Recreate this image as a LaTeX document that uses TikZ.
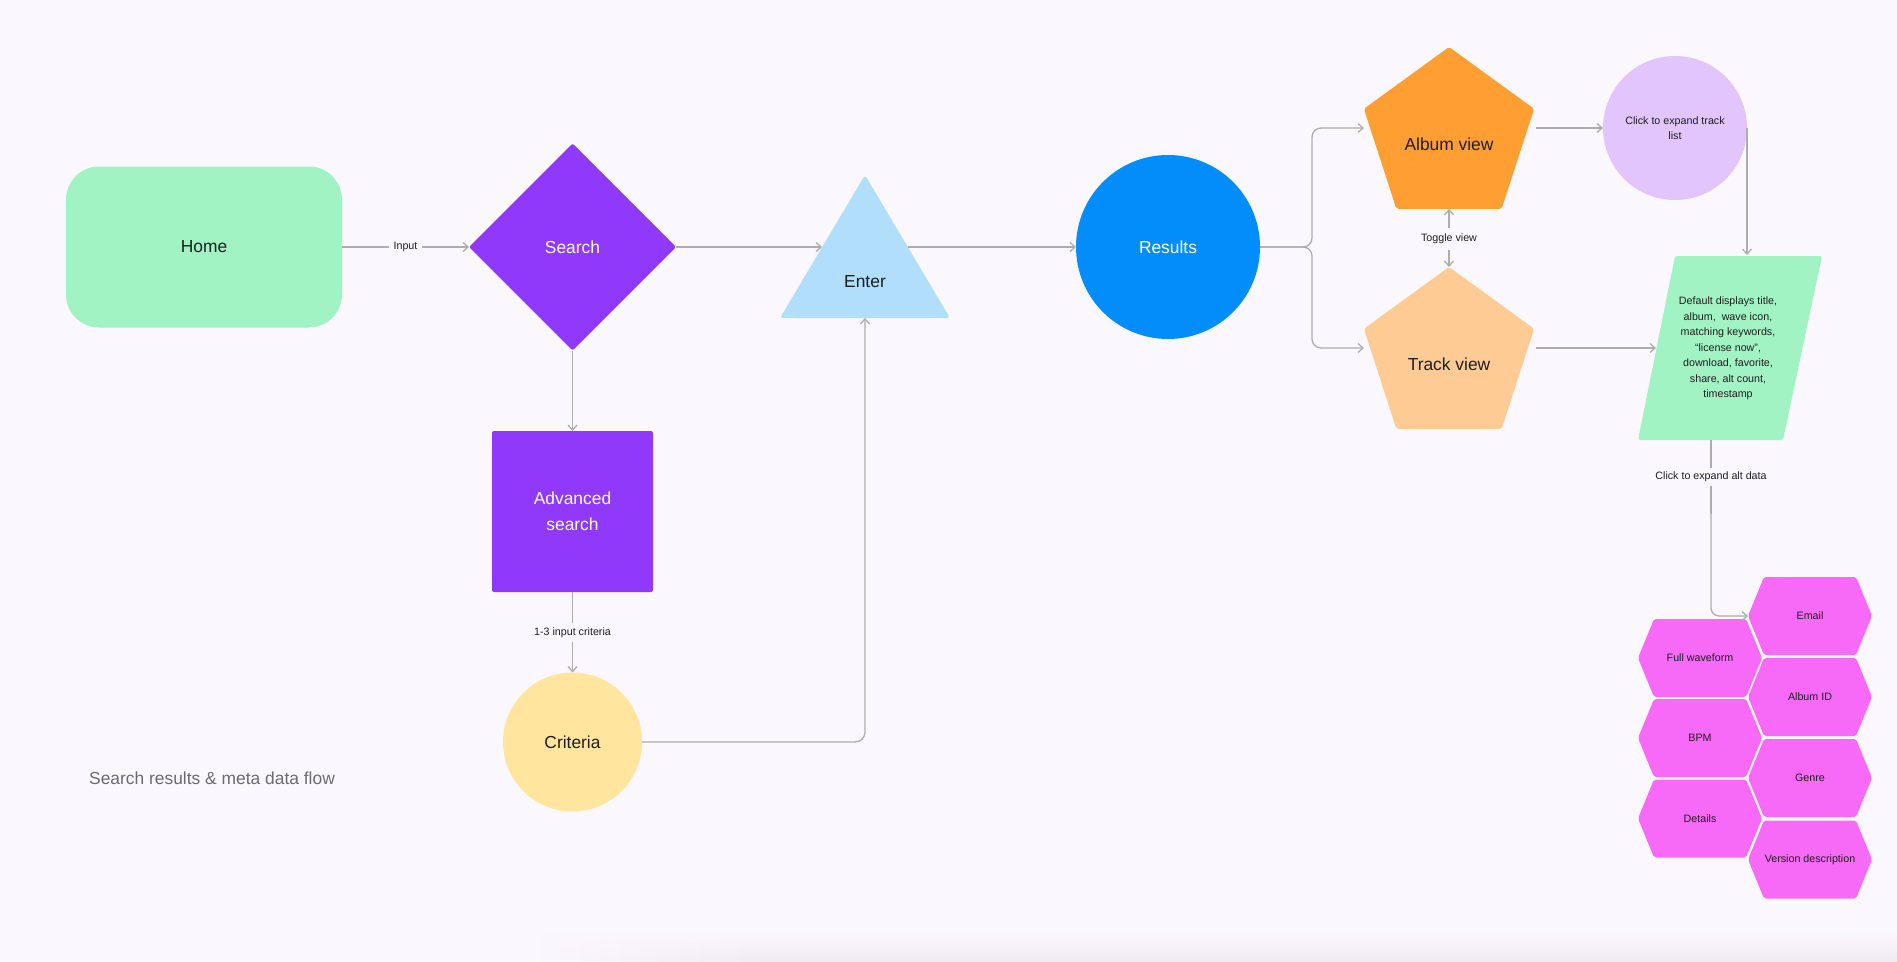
\documentclass[tikz,border=0pt]{standalone}
\usepackage{fontspec}
\setmainfont{Liberation Sans}
\usetikzlibrary{shapes.geometric,arrows.meta,calc}
\definecolor{bg}{HTML}{FBF7FE}
\definecolor{shade}{HTML}{F0EBF3}
\definecolor{mint}{HTML}{A1F3C4}
\definecolor{violet}{HTML}{9039FB}
\definecolor{skyb}{HTML}{B1DEFB}
\definecolor{azure}{HTML}{038DFB}
\definecolor{orng}{HTML}{FF9E32}
\definecolor{lorng}{HTML}{FFCB94}
\definecolor{lilac}{HTML}{E1C5FC}
\definecolor{yell}{HTML}{FFE59D}
\definecolor{magen}{HTML}{F76AF8}
\definecolor{linec}{HTML}{ADADAD}
\definecolor{ink}{HTML}{1E1E1E}
\definecolor{capc}{HTML}{6B6B6B}
\newcommand{\hexa}[4]{%
  \fill[magen, rounded corners=2pt] (#2-62,#3) -- (#2-46,#3-39) -- (#2+46,#3-39) -- (#2+62,#3) -- (#2+46,#3+39) -- (#2-46,#3+39) -- cycle;
  \node[smalltxt] (#1) at (#2,#3) {#4};
  \coordinate (#1W) at (#2-62,#3);
}
\tikzset{
  bigtxt/.style={font=\fontsize{17.4}{26}\selectfont, text=ink, align=center, inner sep=0pt},
  smalltxt/.style={font=\fontsize{10.7}{15.5}\selectfont, text=ink, align=center, inner sep=0pt},
  lbl/.style={font=\fontsize{10.7}{13}\selectfont, text=ink, fill=bg, inner sep=4.5pt},
  conn/.style={draw=linec, line width=1.3pt, -{Straight Barb[length=5pt,width=9pt]}},
  plain/.style={draw=linec, line width=1.3pt},
  shapebox/.style={inner sep=0pt, outer sep=0pt, draw=none},
}
\begin{document}
\begin{tikzpicture}[x=1pt,y=-1pt]
\fill[bg] (0,0) rectangle (1897,961);
\useasboundingbox (0,0) rectangle (1897,961);
% faint shadow at the bottom edge
\foreach \i in {1,...,12}{
  \shade[top color=bg, bottom color=shade, opacity=\i/12] (520+\i*20,932) rectangle (540+\i*20,961);
}
\shade[top color=bg, bottom color=shade] (780,932) rectangle (1897,961);

% Home
\node[shapebox, bigtxt, fill=mint, rounded corners=33pt, minimum width=276pt, minimum height=161pt] (home) at (204,247) {Home};
% Search
\node[shapebox, diamond, fill=violet, rounded corners=2pt, minimum width=207pt, minimum height=207pt, bigtxt, text=white] (search) at (572.5,247) {Search};
% Enter triangle
\fill[skyb, rounded corners=3pt] (865,175) -- (950,318) -- (780,318) -- cycle;
\node[bigtxt] (enter) at (865,282) {Enter};
\coordinate (enterL) at (822,247);
\coordinate (enterR) at (908,247);
\coordinate (enterB) at (865,318);
% Advanced search
\node[shapebox, fill=violet, rounded corners=2pt, minimum width=161pt, minimum height=161pt, bigtxt, text=white] (adv) at (572.5,511.5) {Advanced\\search};
% Criteria
\node[shapebox, circle, fill=yell, minimum size=139pt, bigtxt] (crit) at (572.5,742) {Criteria};
% Results
\node[shapebox, circle, fill=azure, minimum size=184pt, bigtxt, text=white] (res) at (1168,247) {Results};
\coordinate (split) at (1312,247);
% Album view / Track view
\node[shapebox, regular polygon, regular polygon sides=5, minimum size=179pt, fill=orng, rounded corners=2pt] (album) at (1449,136.5) {};
\node[bigtxt] (albumT) at (1449,144) {Album view};
\node[shapebox, regular polygon, regular polygon sides=5, minimum size=179pt, fill=lorng, rounded corners=2pt] (track) at (1449,356.5) {};
\node[bigtxt] (trackT) at (1449,364) {Track view};
\coordinate (albumIn) at (1364,128);
\coordinate (trackIn) at (1364,348);
\coordinate (albumOut) at (1536,128);
\coordinate (trackOut) at (1536,348);
\node[smalltxt, inner sep=0pt, minimum height=22pt] (tog) at (1449,239) {Toggle view};
% Click to expand track list
\node[shapebox, circle, fill=lilac, minimum size=144pt, smalltxt] (clk) at (1675,128) {Click to expand track\\list};
% Parallelogram
\fill[mint, rounded corners=2.5pt] (1675,256) -- (1822,256) -- (1783,440) -- (1638,440) -- cycle;
\node[smalltxt] (para) at (1728,348.5) {Default displays title,\\album,\ \ wave icon,\\matching keywords,\\“license now”,\\download, favorite,\\share, alt count,\\timestamp};
\coordinate (paraL) at (1656,348);
\coordinate (paraB) at (1711,440);
\coordinate (bend) at (1711,616);
% Hexagons
\hexa{email}{1810}{616}{Email}
\hexa{albid}{1810}{697}{Album ID}
\hexa{genre}{1810}{778}{Genre}
\hexa{vers}{1810}{859.5}{Version description}
\hexa{wave}{1700}{658}{Full waveform}
\hexa{bpm}{1700}{738}{BPM}
\hexa{det}{1700}{818.5}{Details}
% Caption
\node[font=\fontsize{17.4}{20}\selectfont, text=capc, anchor=west, inner sep=0pt] (cap) at (89,778) {Search results \& meta data flow};

% Connectors
\draw[conn] (home.east) -- node[lbl]{Input} (search.west);
\draw[conn] (search.east) -- (enterL);
\draw[conn] (enterR) -- (res.west);
\draw[conn] (search.south) -- (adv.north);
\draw[conn] (adv.south) -- node[lbl]{1-3 input criteria} (crit.north);
\draw[conn, rounded corners=10pt] (crit.east) -- (crit.east -| enterB) -- (enterB);
\draw[conn, rounded corners=9pt] (res.east) -- (split) -- (split |- albumIn) -- (albumIn);
\draw[conn, rounded corners=9pt] (res.east) -- (split) -- (split |- trackIn) -- (trackIn);
\draw[conn] (tog.north) -- (album.south);
\draw[conn] (tog.south) -- (track.corner 1);
\draw[conn] (albumOut) -- (clk.west);
\draw[conn] (clk.east) -- ($(clk.east)+(0,127)$);
\draw[conn] (trackOut) -- (paraL);
\draw[plain] (paraB) -- node[lbl, pos=0.5]{Click to expand alt data} ($(paraB)+(0,74)$);
\draw[conn, rounded corners=8pt] ($(paraB)+(0,70)$) -- (bend) -- (emailW);
\end{tikzpicture}
\end{document}
